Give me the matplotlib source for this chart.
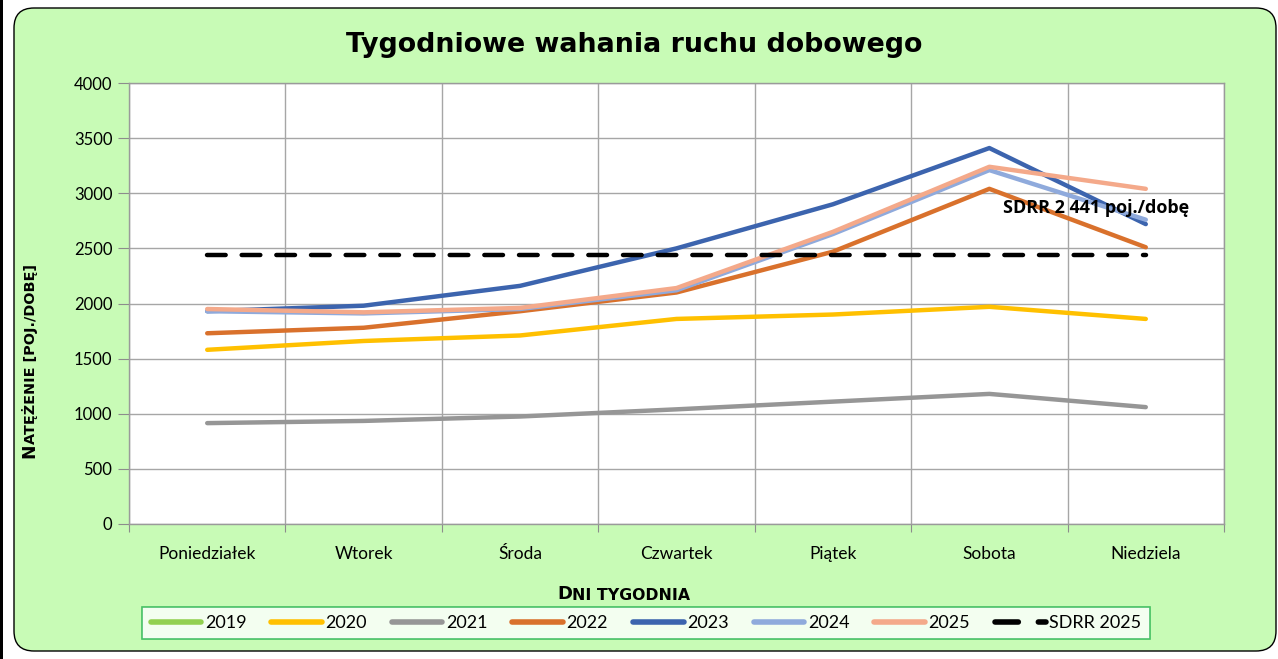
import numpy as np
import matplotlib
matplotlib.use("Agg")
import matplotlib.pyplot as plt
from matplotlib.patches import FancyBboxPatch, Rectangle
from matplotlib.transforms import IdentityTransform

# --- data ---
days = ["Poniedziałek", "Wtorek", "Środa", "Czwartek", "Piątek", "Sobota", "Niedziela"]
v2019 = [np.nan] * 7                      # no 2019 line visible in the chart
v2020 = [1580, 1660, 1710, 1860, 1900, 1970, 1860]
v2021 = [915, 935, 975, 1040, 1110, 1180, 1060]
v2022 = [1730, 1780, 1930, 2100, 2470, 3040, 2510]
v2023 = [1930, 1980, 2160, 2500, 2900, 3410, 2720]
v2024 = [1930, 1910, 1950, 2120, 2630, 3210, 2760]
v2025 = [1950, 1920, 1960, 2140, 2650, 3240, 3040]
sdrr_2025 = 2441

series = [
    ("2019", v2019, "#92d050"),
    ("2020", v2020, "#ffc000"),
    ("2021", v2021, "#969696"),
    ("2022", v2022, "#d9712c"),
    ("2023", v2023, "#3c64ae"),
    ("2024", v2024, "#8faadc"),
    ("2025", v2025, "#f4a98a"),
]

BG = "#c8fbb6"
W, H = 1278, 659
fig = plt.figure(figsize=(W / 100, H / 100), dpi=100)
fig.patch.set_facecolor("white")

# rounded green chart area + black bar at the left edge (pixel coordinates)
box = FancyBboxPatch((14, 8), 1262, 643, boxstyle="round,pad=0,rounding_size=20",
                     transform=IdentityTransform(), facecolor=BG, edgecolor="black",
                     linewidth=1.0, zorder=-10)
fig.patches.append(box)
fig.patches.append(Rectangle((0, 0), 3, H, transform=IdentityTransform(),
                             facecolor="black", edgecolor="none", zorder=-9))

ax = fig.add_axes([129 / W, 1 - 524 / H, (1224 - 129) / W, (524 - 83) / H])
ax.set_facecolor("white")

x = np.arange(len(days))
for name, vals, col in series:
    ax.plot(x, vals, color=col, lw=3.2, solid_capstyle="round", label=name, zorder=3)

ax.plot(x, [sdrr_2025] * len(days), color="black", lw=3.2, linestyle=(0, (4.2, 3.6)),
        dash_capstyle="round", label="SDRR 2025", zorder=3)

ax.text(5.09, 2870, "SDRR 2 441 poj./dobę", fontsize=13, fontweight="bold",
        family="Open Sans", va="center", ha="left", zorder=4)

# axes, grid
ax.set_xlim(-0.5, 6.5)
ax.set_ylim(0, 4000)
ax.set_yticks(np.arange(0, 4001, 500))
ax.set_xticks(np.arange(-0.5, 7, 1))
ax.set_xticklabels([])
ax.set_xticks(x, minor=True)
ax.set_xticklabels(days, minor=True, fontsize=12.5, family="Lato")
ax.tick_params(axis="x", which="minor", length=0, pad=16)
ax.tick_params(axis="x", which="major", length=6, color="#8c8c8c", direction="out")
ax.tick_params(axis="y", length=8, color="#8c8c8c", labelsize=12, pad=4)
for lab in ax.get_yticklabels():
    lab.set_family("Lato")
ax.grid(True, which="major", color="#a6a6a6", lw=1.0, zorder=0)
for s in ax.spines.values():
    s.set_color("#9a9a9a")
    s.set_linewidth(1.0)

# title
fig.text(634 / W, 1 - 45 / H, "Tygodniowe wahania ruchu dobowego", ha="center", va="center",
         fontsize=19.4, fontweight="bold")

# x label in small caps: large first letter + smaller rest
t1 = fig.text(557 / W, 1 - 599 / H, "D", fontsize=13, fontweight="bold", ha="left", va="baseline")
lab_x = ax.annotate("NI TYGODNIA", xy=(1, 0), xycoords=t1, fontsize=11.3, fontweight="bold",
                    ha="left", va="bottom", annotation_clip=False)

# y label in small caps, rotated
t2 = fig.text(38 / W, 1 - 458 / H, "N", fontsize=12.3, fontweight="bold", rotation=90,
              ha="right", va="bottom")
lab_y = ax.annotate("ATĘŻENIE [POJ./DOBĘ]", xy=(1, 1), xycoords=t2, fontsize=10.4, fontweight="bold",
                    rotation=90, ha="right", va="bottom", annotation_clip=False)

# legend
leg = ax.legend(loc="center", bbox_to_anchor=(646 / W, 1 - 623 / H), bbox_transform=fig.transFigure,
                ncol=8, frameon=True, prop={"family": "Lato", "size": 13},
                handlelength=2.8, handletextpad=0.2, columnspacing=1.38, borderpad=0.45,
                fancybox=False, edgecolor="#21b04b")
leg.get_frame().set_linewidth(1.2)
leg.get_frame().set_facecolor("white")
for ln in leg.get_lines():
    ln.set_linewidth(4)

fig.savefig("out.png", dpi=100)
